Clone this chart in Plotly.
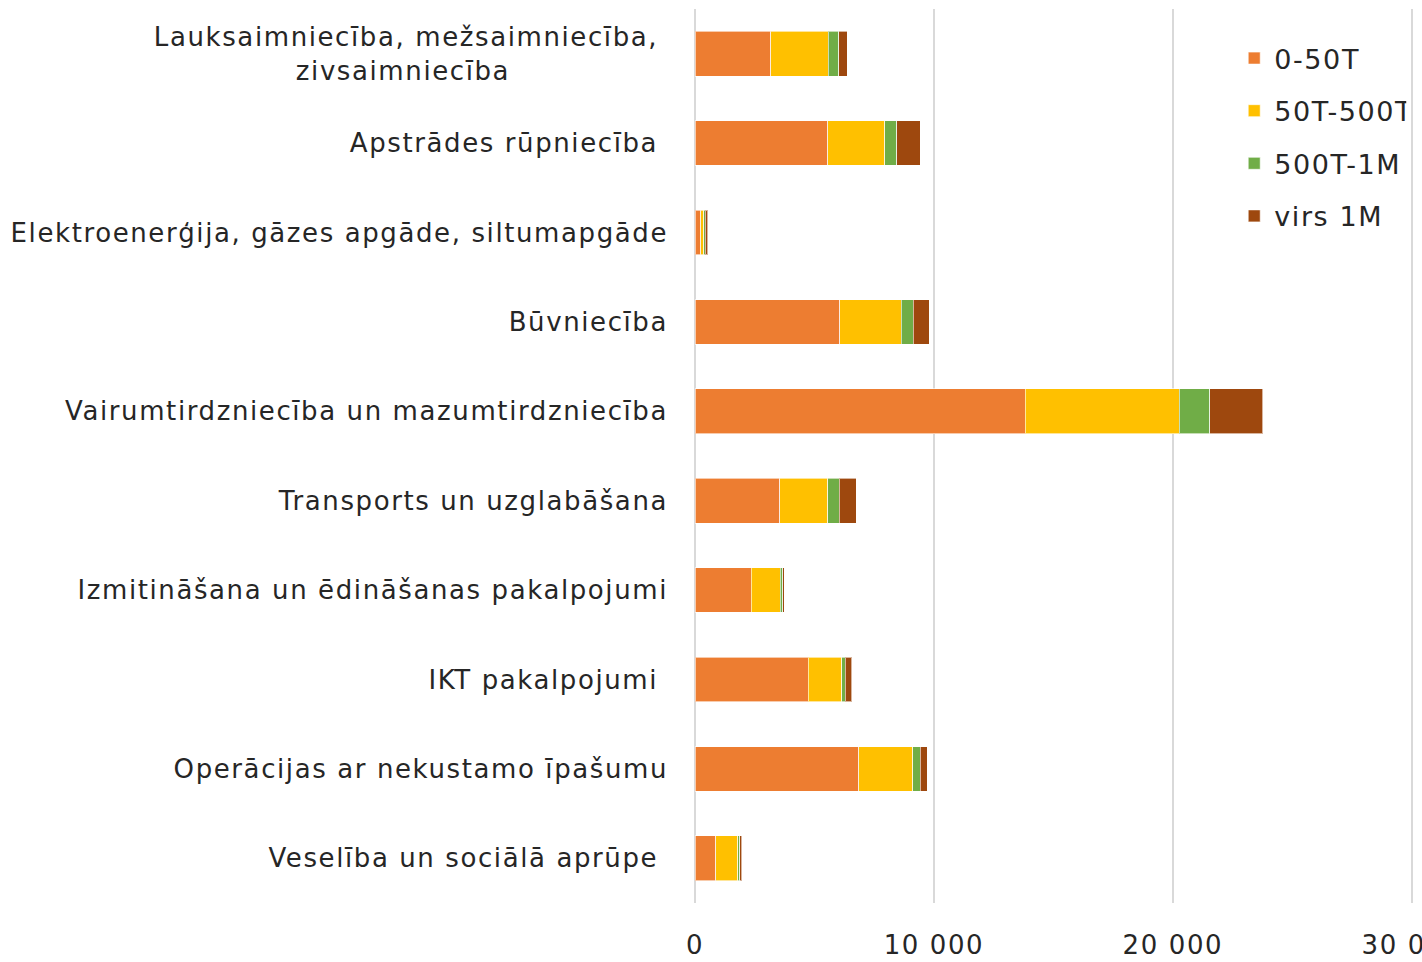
import plotly.graph_objects as go

NB = "\u00a0"
categories = [
    "Lauksaimniecība, mežsaimniecība,",
    "Apstrādes rūpniecība",
    "Elektroenerģija, gāzes apgāde, siltumapgāde",
    "Būvniecība",
    "Vairumtirdzniecība un mazumtirdzniecība",
    "Transports un uzglabāšana",
    "Izmitināšana un ēdināšanas pakalpojumi",
    "IKT pakalpojumi",
    "Operācijas ar nekustamo īpašumu",
    "Veselība un sociālā aprūpe",
]
tick_labels = [
    "Lauksaimniecība, mežsaimniecība," + NB + "<br>zivsaimniecība" + NB * 16,
    "Apstrādes rūpniecība" + NB,
    "Elektroenerģija, gāzes apgāde, siltumapgāde",
    "Būvniecība",
    "Vairumtirdzniecība un mazumtirdzniecība",
    "Transports un uzglabāšana",
    "Izmitināšana un ēdināšanas pakalpojumi",
    "IKT pakalpojumi" + NB,
    "Operācijas ar nekustamo īpašumu",
    "Veselība un sociālā aprūpe" + NB,
]

series_names = ["0-50T", "50T-500T", "500T-1M", "virs 1M"]
v_0_50T = [3163, 5551, 230, 6053, 13817, 3540, 2354, 4742, 6849, 859]
v_50T_500T = [2417, 2388, 140, 2585, 6451, 2011, 1215, 1395, 2263, 921]
v_500T_1M = [432, 502, 57, 503, 1274, 490, 109, 155, 322, 84]
v_virs_1M = [363, 993, 110, 670, 2220, 712, 59, 277, 293, 97]
series_values = [v_0_50T, v_50T_500T, v_500T_1M, v_virs_1M]
colors = ["#ED7D31", "#FFC000", "#70AD47", "#9E480E"]

x_ticks = [0, 10000, 20000, 30000]
x_tick_text = ["0", "10 000", "20 000", "30 000"]

FONT = "DejaVu Sans"
TXT = "#262626"

fig = go.Figure()
for name, vals, col in zip(series_names, series_values, colors):
    fig.add_trace(go.Bar(
        y=categories, x=vals, name=name, orientation="h",
        marker=dict(color=col, line=dict(color="rgba(255,255,255,0.6)", width=1)),
        legendgroup=name,
    ))

fig.update_layout(
    width=1422, height=962,
    barmode="stack", bargap=0.5,
    plot_bgcolor="white", paper_bgcolor="white",
    margin=dict(l=695, r=8.8, t=9, b=59, autoexpand=False),
    font=dict(family=FONT, size=26, color=TXT),
    showlegend=True,
    legend=dict(
        x=0.751, xanchor="left", y=0.972, yanchor="top",
        font=dict(family=FONT, size=27, color=TXT),
        tracegroupgap=14.5, bgcolor="rgba(0,0,0,0)",
        traceorder="grouped",
    ),
    xaxis=dict(
        range=[0, 30050], tickvals=x_ticks, ticktext=x_tick_text,
        showgrid=True, gridcolor="#D9D9D9", gridwidth=2,
        zeroline=True, zerolinecolor="#D9D9D9", zerolinewidth=2,
        showline=False, ticks="", ticklabelstandoff=24,
        ticklabeloverflow="allow",
        tickfont=dict(family=FONT, size=26, color=TXT),
        automargin=False, fixedrange=True,
    ),
    yaxis=dict(
        categoryorder="array", categoryarray=categories,
        tickvals=categories, ticktext=tick_labels,
        autorange="reversed", showgrid=False, zeroline=False,
        ticks="", ticklabelstandoff=26,
        tickfont=dict(family=FONT, size=26, color=TXT),
        automargin=False,
    ),
)

post_js = (
    "document.body.style.margin='0';"
    "document.body.style.overflow='hidden';"
    "document.documentElement.style.overflow='hidden';"
    "var gd=document.getElementById('{plot_id}');"
    "function ls(){gd.querySelectorAll('.ytick text, .xtick text, .legendtext')"
    ".forEach(function(t){t.style.letterSpacing='1.6px';});}"
    "ls(); gd.on('plotly_afterplot', ls);"
)

fig.write_html("out.html", post_script=post_js, config={"displayModeBar": False})
